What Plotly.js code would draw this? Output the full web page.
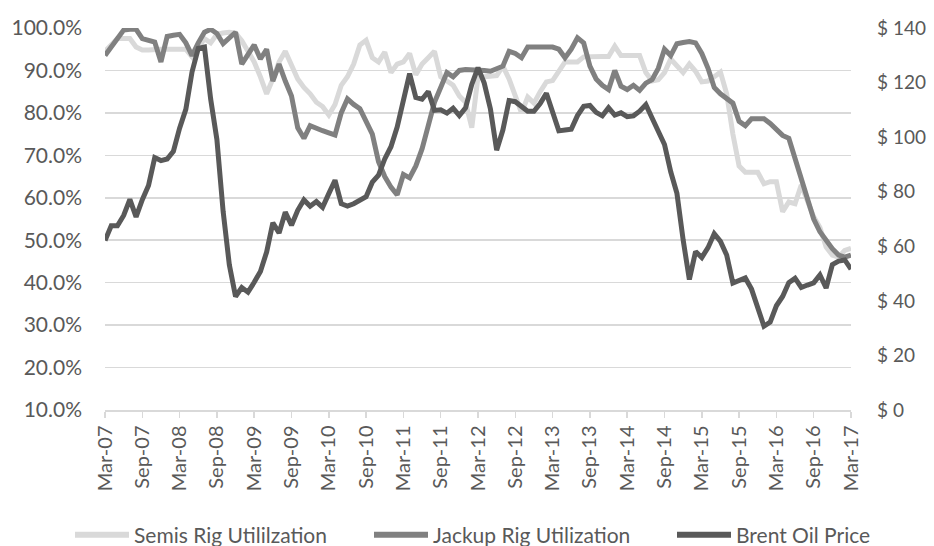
<!DOCTYPE html>
<html>
<head>
<meta charset="utf-8">
<script src="https://cdn.plot.ly/plotly-3.0.1.min.js"></script>
<style>
html,body{margin:0;padding:0;background:#fff;}
#chart{width:934px;height:546px;}
</style>
</head>
<body>
<div id="chart"></div>
<script>
// Monthly series, Mar-07 .. Mar-17
const semisUtil = [
  94.5, 96, 97.5, 97.5, 97.5, 95.5, 94.8, 94.8, 95, 95,
  95, 95, 95, 95, 93.2, 95.5, 97.5, 96.5, 98.5, 98.8,
  99, 98.8, 97, 94.5, 92, 88.5, 84.5, 88, 92, 94.5,
  91, 88, 86, 84.5, 82.5,
  81.5, 79.5, 82, 86.5, 88.5, 91.5, 96, 97.1, 93, 92,
  94.3, 89.5, 91.5, 92, 94, 89, 91.5, 93, 94.5, 88.5,
  87.5, 86.5, 84, 82.5, 76.5, 88.5, 88.5, 88.8, 88.8, 91,
  88, 84, 80, 83.7, 82.3, 85, 87.3, 87.6, 90, 92,
  92, 92, 93.2, 93.3, 93.3, 93.3, 93.3, 95.7, 93.5, 93.5,
  93.5, 93.5, 89.5, 87.5, 87.8, 89.5, 92.7, 91, 89.5, 91.5,
  89.8, 87.3, 87.5, 88.5, 89.6, 84.5, 75, 67.5, 66, 66,
  66, 63.3, 63.8, 63.8, 56.7, 59, 58.6, 63, 59, 55.5,
  53, 48.4, 46.5, 46, 47.6, 48.1
];
const jackupUtil = [
  93.5, 95.5, 97.5, 99.5, 99.7, 99.7, 97.5, 97, 96.7, 92,
  98, 98.3, 98.5, 96.5, 93.5, 96.5, 99, 99.7, 98.7, 96.3,
  97.5, 99, 91.5, 94, 96, 92.7, 95, 87.5, 91.5, 87.5,
  84, 76.5, 74, 77, 76.3,
  75.8, 75.3, 74.8, 80, 83.3, 82, 81, 78, 75, 68.5,
  65, 62.5, 60.7, 65.5, 64.7, 67.5, 71.5, 77, 82.5, 86,
  89.5, 88.5, 90, 90.2, 90.2, 90.2,
  90, 89.8, 90.3, 91, 94.5, 94, 93, 95.5, 95.5, 95.5,
  95.5, 95.5, 95, 93, 95, 97.7, 96.5, 91, 88, 86.5,
  85.5, 90, 86.3, 85.5, 86.5, 85.3, 87, 87.8, 90.5, 95,
  93.5, 96.3, 96.6, 96.8, 96.5, 94, 90.5, 86, 84.5, 83.5,
  82.3, 78, 77, 78.6, 78.6, 78.6, 77.5, 76, 74.7, 74,
  69, 65, 59.5, 55, 52, 50, 48, 46.5, 46, 46.5
];
const brentPrice = [
  62.1, 67.5, 67.5, 71.3, 77.2, 70.8, 77.1, 82.3, 92.5, 91.4,
  92.0, 94.8, 103.3, 110.2, 123.9, 132.5, 133.0, 113.9, 99.1, 72.8, 53.2, 41.6,
  44.9, 43.2, 46.8, 50.8, 57.9, 68.6, 64.9, 72.5, 67.7, 73.2, 77.0, 74.7,
  76.4, 74.3, 79.3, 84.2, 75.6, 74.7, 75.6, 77.1, 78.2, 83.5, 86.1, 92.0,
  96.5, 103.7, 114.6, 123.3, 114.5, 113.9, 116.7, 109.8, 110.0, 108.8, 110.6, 107.9,
  110.7, 119.3, 125.5, 119.8, 110.3, 95.2, 102.6, 113.4, 113.0, 111.5, 109.5, 109.5,
  112.3, 116.1, 108.5, 102.3, 102.6, 102.9, 107.9, 111.3, 111.6, 109.1, 107.8, 110.8,
  108.1, 108.9, 107.5, 107.8, 109.5, 111.9, 107.0, 101.9, 97.3, 87.3, 79.4, 62.3,
  47.8, 58.1, 55.9, 59.5, 64.6, 61.8, 56.8, 46.5, 47.6, 48.4, 44.3, 38.0,
  30.7, 32.2, 38.2, 41.6, 46.7, 48.3, 44.9, 45.8, 46.6, 49.5, 44.7, 53.3,
  54.6, 55.0, 51.6
];
const seriesNames = ['Semis Rig Utililzation', 'Jackup Rig Utilization', 'Brent Oil Price'];
const seriesColors = ['#d9d9d9', '#808080', '#595959'];

const monthNames = ['Jan','Feb','Mar','Apr','May','Jun','Jul','Aug','Sep','Oct','Nov','Dec'];
const startYear = 2007, startMonth = 2;
const months = [];
for (let i = 0; i < brentPrice.length; i++) {
  const m = (startMonth + i) % 12;
  const y = startYear + Math.floor((startMonth + i) / 12);
  months.push(monthNames[m] + '-' + String(y % 100).padStart(2, '0'));
}
const tickLabels = months.filter((_, i) => i % 6 === 0);

const FONT = 'Lato, "Liberation Sans", sans-serif';
const TXT = '#595959';

// plot-area geometry (pixels) used only to place the custom legend
const W = 934, H = 546, ML = 105, MR = 83, MT = 27.5, MB = 136;
const PW = W - ML - MR, PH = H - MT - MB;
const px = v => (v - ML) / PW;
const py = v => (H - MB - v) / PH;

const traces = [
  {x: months, y: semisUtil, name: seriesNames[0], type: 'scatter', mode: 'lines',
   line: {color: seriesColors[0], width: 5}, yaxis: 'y'},
  {x: months, y: jackupUtil, name: seriesNames[1], type: 'scatter', mode: 'lines',
   line: {color: seriesColors[1], width: 5}, yaxis: 'y'},
  {x: months, y: brentPrice, name: seriesNames[2], type: 'scatter', mode: 'lines',
   line: {color: seriesColors[2], width: 5}, yaxis: 'y2'}
];

// custom legend: sample lines + labels
const legendSamples = [[75, 129], [374, 428], [677, 731]];
const legendY = 535;
const shapes = legendSamples.map((s, i) => ({
  type: 'line', xref: 'paper', yref: 'paper',
  x0: px(s[0]), x1: px(s[1]), y0: py(legendY), y1: py(legendY),
  line: {color: seriesColors[i], width: 6}
}));
const annotations = legendSamples.map((s, i) => ({
  xref: 'paper', yref: 'paper', x: px(s[1] + 3), y: py(legendY),
  xanchor: 'left', yanchor: 'middle', showarrow: false,
  text: seriesNames[i], font: {family: FONT, size: 21, color: TXT}
}));

const layout = {
  width: W, height: H,
  margin: {l: ML, r: MR, t: MT, b: MB, pad: 0, autoexpand: false},
  paper_bgcolor: '#fff', plot_bgcolor: '#fff',
  font: {family: FONT, size: 21, color: TXT},
  showlegend: false,
  shapes: shapes,
  annotations: annotations,
  xaxis: {
    type: 'category', range: [0, months.length - 1],
    tickmode: 'array', tickvals: tickLabels, ticktext: tickLabels,
    tickangle: -90, ticks: 'outside', ticklen: 6, tickcolor: '#d9d9d9', tickwidth: 1.5,
    showline: true, linecolor: '#d9d9d9', linewidth: 1.5,
    showgrid: false, zeroline: false, automargin: false,
    tickfont: {family: FONT, size: 20, color: TXT}
  },
  yaxis: {
    range: [10, 100], dtick: 10, tick0: 10,
    tickformat: '.1f', ticksuffix: '%',
    showgrid: true, gridcolor: '#d9d9d9', gridwidth: 1.5,
    zeroline: false, showline: false, ticks: '', automargin: false,
    ticklabelstandoff: 22,
    tickfont: {family: FONT, size: 21, color: TXT}
  },
  yaxis2: {
    overlaying: 'y', side: 'right',
    range: [0, 140], dtick: 20, tick0: 0,
    tickprefix: '$ ', tickformat: 'd',
    showgrid: false, zeroline: false, showline: false, ticks: '', automargin: false,
    ticklabelstandoff: 25,
    tickfont: {family: FONT, size: 19, color: TXT}
  }
};

Plotly.newPlot('chart', traces, layout, {displayModeBar: false, staticPlot: true});
</script>
</body>
</html>
